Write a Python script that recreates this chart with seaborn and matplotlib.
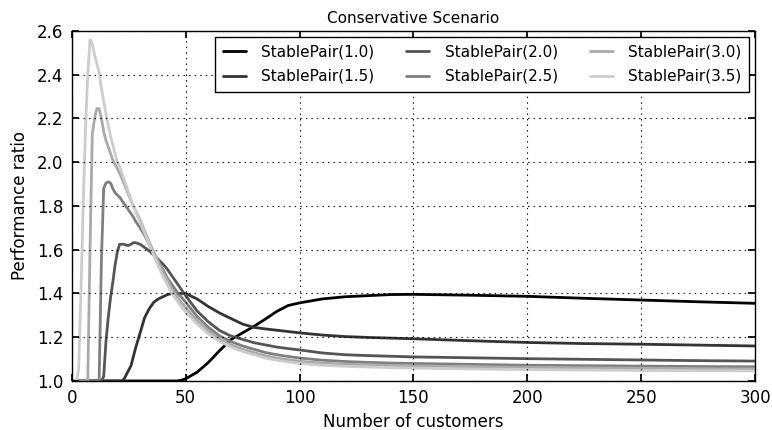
import matplotlib
matplotlib.use("Agg")
import matplotlib.pyplot as plt
import numpy as np
import pandas as pd
import seaborn as sns

# Number of customers at which each ratio was recorded
customers = [1, 2, 3, 4, 5, 6, 7, 8, 9, 10, 11, 12, 13, 14, 15, 16, 17, 18, 19, 20,
             21, 22, 23, 24, 25, 26, 27, 28, 30, 32, 34, 36, 38, 40, 42, 44, 46, 48, 50,
             55, 60, 65, 70, 75, 80, 85, 90, 95, 100, 110, 120, 130, 140, 150,
             175, 200, 225, 250, 275, 300]

ratio_1_0 = [1.0] * 37 + [1.003, 1.01,
             1.04, 1.085, 1.14, 1.19, 1.22, 1.25, 1.283, 1.318, 1.345, 1.357,
             1.375, 1.385, 1.39, 1.395, 1.396, 1.392, 1.387, 1.378, 1.37, 1.362, 1.355]

ratio_1_5 = [1.0] * 22 + [1.01, 1.03, 1.05, 1.07, 1.11, 1.15, 1.22, 1.29, 1.33, 1.36,
             1.375, 1.385, 1.395, 1.40, 1.40, 1.40, 1.40,
             1.375, 1.34, 1.31, 1.285, 1.26, 1.245, 1.238, 1.232, 1.226, 1.22,
             1.21, 1.203, 1.199, 1.196, 1.193, 1.184, 1.176, 1.171, 1.168, 1.164, 1.16]

ratio_2_0 = [1.0] * 13 + [1.02, 1.18, 1.29, 1.38, 1.45, 1.53, 1.59, 1.625, 1.625, 1.625,
             1.62, 1.62, 1.625, 1.632, 1.632, 1.625, 1.61, 1.595, 1.575, 1.555, 1.535,
             1.51, 1.48, 1.45, 1.42, 1.39,
             1.32, 1.27, 1.23, 1.205, 1.19, 1.175, 1.165, 1.155, 1.148, 1.142,
             1.128, 1.12, 1.116, 1.113, 1.11, 1.106, 1.102, 1.099, 1.096, 1.093, 1.091]

ratio_2_5 = [1.0] * 12 + [1.55, 1.88, 1.905, 1.91, 1.905, 1.88, 1.86, 1.85, 1.84, 1.825,
             1.81, 1.795, 1.78, 1.765, 1.75, 1.73, 1.70, 1.665, 1.625, 1.585, 1.545,
             1.51, 1.47, 1.44, 1.41, 1.385, 1.36,
             1.295, 1.245, 1.205, 1.18, 1.16, 1.145, 1.13, 1.12, 1.112, 1.105,
             1.095, 1.089, 1.085, 1.082, 1.08, 1.076, 1.072, 1.07, 1.068, 1.066, 1.065]

ratio_3_0 = [1.0] * 7 + [1.6, 2.13, 2.2, 2.245, 2.245, 2.2, 2.14, 2.1, 2.07, 2.04, 2.01,
             1.99, 1.97, 1.95, 1.925, 1.9, 1.875, 1.85, 1.825, 1.80, 1.78, 1.735, 1.685,
             1.635, 1.59, 1.545, 1.50, 1.46, 1.42, 1.39, 1.36, 1.335,
             1.275, 1.23, 1.19, 1.165, 1.145, 1.13, 1.115, 1.105, 1.097, 1.09,
             1.082, 1.077, 1.074, 1.071, 1.069, 1.065, 1.062, 1.06, 1.058, 1.056, 1.055]

ratio_3_5 = [1.0, 1.0, 1.05, 1.4, 1.8, 2.15, 2.4, 2.56, 2.54, 2.49, 2.45, 2.41, 2.34, 2.28,
             2.22, 2.17, 2.12, 2.08, 2.04, 2.0, 1.98, 1.95, 1.92, 1.89, 1.86, 1.83, 1.80,
             1.775, 1.725, 1.675, 1.625, 1.575, 1.525, 1.48, 1.44, 1.40, 1.37, 1.34, 1.315,
             1.26, 1.215, 1.18, 1.155, 1.135, 1.12, 1.105, 1.095, 1.087, 1.08,
             1.072, 1.067, 1.064, 1.061, 1.059, 1.055, 1.052, 1.05, 1.048, 1.047, 1.046]

series_labels = ["StablePair(1.0)", "StablePair(1.5)", "StablePair(2.0)",
                 "StablePair(2.5)", "StablePair(3.0)", "StablePair(3.5)"]
series_values = [ratio_1_0, ratio_1_5, ratio_2_0, ratio_2_5, ratio_3_0, ratio_3_5]
grays = ["#000000", "#333333", "#555555", "#7f7f7f", "#aaaaaa", "#cccccc"]

frames = []
for label, vals in zip(series_labels, series_values):
    frames.append(pd.DataFrame({"customers": customers, "ratio": vals, "policy": label}))
df = pd.concat(frames, ignore_index=True)

sns.set_theme(style="white", rc={
    "axes.edgecolor": "black",
    "axes.linewidth": 1.0,
    "xtick.direction": "in",
    "ytick.direction": "in",
    "xtick.top": True,
    "ytick.right": True,
    "xtick.bottom": True,
    "ytick.left": True,
    "xtick.major.size": 5,
    "ytick.major.size": 5,
    "xtick.major.pad": 6,
    "ytick.major.pad": 6,
    "xtick.color": "black",
    "ytick.color": "black",
    "axes.labelcolor": "black",
    "text.color": "black",
})
plt.rcParams["font.family"] = ["DejaVu Sans"]

fig = plt.figure(figsize=(7.72, 4.30), dpi=100)
ax = fig.add_axes([0.093, 0.114, 0.885, 0.814])

sns.lineplot(data=df, x="customers", y="ratio", hue="policy", hue_order=series_labels,
             palette=grays, linewidth=2, ax=ax, legend=False)

ax.set_xlim(0, 300)
ax.set_ylim(1.0, 2.6)
ax.set_xticks(np.arange(0, 301, 50))
ax.set_yticks(np.arange(1.0, 2.61, 0.2))
ax.set_yticklabels([f"{v:.1f}" for v in np.arange(1.0, 2.61, 0.2)])
ax.tick_params(labelsize=12)
# sparse dotted grid drawn above the curves
grid_lw = 0.8
ax.grid(True, color="black", linestyle=(0, (1.0 / grid_lw, 3.0 / grid_lw)), linewidth=grid_lw)
ax.set_axisbelow(False)

ax.set_xlabel("Number of customers", fontsize=12)
ax.set_ylabel("Performance ratio", fontsize=12, labelpad=6)
ax.set_title("Conservative Scenario", fontsize=11)

handles = [plt.Line2D([], [], color=c, linewidth=2) for c in grays]
leg = ax.legend(handles, series_labels, ncol=3, loc="upper right", fontsize=11,
                frameon=True, fancybox=False, framealpha=1, edgecolor="black",
                borderaxespad=0.4, columnspacing=2.1, handlelength=1.5,
                handletextpad=1.0, labelspacing=0.6, borderpad=0.5)
leg.get_frame().set_linewidth(1.0)
leg.set_zorder(5)

fig.savefig("out.png", dpi=100)
